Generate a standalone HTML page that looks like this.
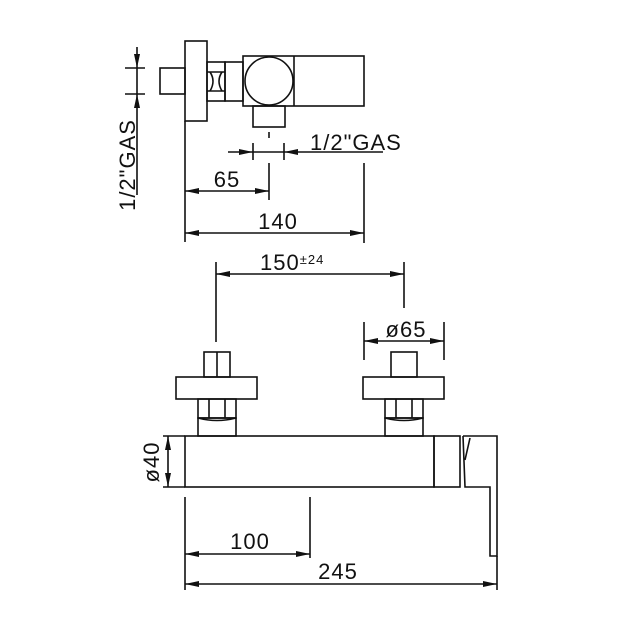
<!DOCTYPE html>
<html><head><meta charset="utf-8"><style>
html,body{margin:0;padding:0;background:#fff;}
svg{display:block;}
text{font-family:"Liberation Sans",sans-serif;fill:#111;letter-spacing:1px;}
</style></head><body>
<svg width="630" height="630" viewBox="0 0 630 630" xmlns="http://www.w3.org/2000/svg">
<defs>
<marker id="a" markerWidth="14" markerHeight="8" refX="14" refY="4" orient="auto-start-reverse" markerUnits="userSpaceOnUse">
<path d="M0,1 L14,4 L0,7 Z" fill="#111"/></marker>
</defs>
<g stroke="#111" stroke-width="1.6" fill="none">
<!-- top view -->
<rect x="185" y="41" width="22" height="80"/>
<rect x="160" y="68" width="25" height="26"/>
<rect x="207" y="62" width="18" height="39"/>
<line x1="207" y1="72" x2="225" y2="72"/><line x1="207" y1="91" x2="225" y2="91"/>
<path d="M210,72 Q216,81 210,91 M222,72 Q216,81 222,91"/>
<rect x="225" y="62" width="18" height="39"/>
<rect x="243" y="56" width="121" height="50"/>
<line x1="294" y1="56" x2="294" y2="106"/>
<circle cx="269" cy="81" r="24"/>
<rect x="253" y="106" width="32" height="21"/>
<line x1="269" y1="132" x2="269" y2="138"/>
<!-- 1/2 GAS horizontal -->
<line x1="228" y1="152" x2="253" y2="152" marker-end="url(#a)"/>
<line x1="253" y1="152" x2="284" y2="152"/>
<line x1="383" y1="152" x2="284" y2="152" marker-end="url(#a)"/>
<line x1="253" y1="143" x2="253" y2="160"/><line x1="284" y1="143" x2="284" y2="160"/>
<!-- 65 / 140 -->
<line x1="269" y1="163" x2="269" y2="200"/>
<line x1="185" y1="121" x2="185" y2="242"/>
<line x1="364" y1="163" x2="364" y2="243"/>
<line x1="185" y1="191" x2="269" y2="191" marker-start="url(#a)" marker-end="url(#a)"/>
<line x1="185" y1="233" x2="364" y2="233" marker-start="url(#a)" marker-end="url(#a)"/>
<!-- left vertical GAS -->
<line x1="137" y1="47" x2="137" y2="68" marker-end="url(#a)"/>
<line x1="137" y1="68" x2="137" y2="94"/>
<line x1="137" y1="195" x2="137" y2="94" marker-end="url(#a)"/>
<line x1="125" y1="68" x2="145" y2="68"/><line x1="125" y1="94" x2="145" y2="94"/>
<!-- front view valves -->
<rect x="204" y="352" width="26" height="25"/><line x1="217" y1="352" x2="217" y2="377"/>
<rect x="176" y="377" width="81" height="22"/>
<rect x="198" y="399" width="38" height="19"/>
<line x1="209" y1="399" x2="209" y2="418"/><line x1="225" y1="399" x2="225" y2="418"/>
<path d="M198,418 Q217,423 236,418"/>
<rect x="198" y="418" width="38" height="18"/>
<rect x="391" y="352" width="26" height="25"/>
<rect x="363" y="377" width="81" height="22"/>
<rect x="385" y="399" width="38" height="19"/>
<line x1="396" y1="399" x2="396" y2="418"/><line x1="412" y1="399" x2="412" y2="418"/>
<path d="M385,418 Q404,423 423,418"/>
<rect x="385" y="418" width="38" height="18"/>
<!-- body -->
<rect x="185" y="436" width="249" height="51"/>
<rect x="434" y="436" width="26" height="51"/>
<path d="M463,436 L497,436 L497,556 L490,556 L490,487 L465,487 L463,436"/>
<path d="M470,438 L465,460"/>
<!-- Ø40 -->
<line x1="163" y1="436" x2="185" y2="436"/><line x1="163" y1="487" x2="185" y2="487"/>
<line x1="168" y1="461" x2="168" y2="436" marker-end="url(#a)"/>
<line x1="168" y1="461" x2="168" y2="487" marker-end="url(#a)"/>
<!-- 100 / 245 -->
<line x1="185" y1="497" x2="185" y2="590"/>
<line x1="310" y1="497" x2="310" y2="558"/>
<line x1="497" y1="556" x2="497" y2="590"/>
<line x1="185" y1="554" x2="310" y2="554" marker-start="url(#a)" marker-end="url(#a)"/>
<line x1="185" y1="584" x2="497" y2="584" marker-start="url(#a)" marker-end="url(#a)"/>
<!-- 150 -->
<line x1="216" y1="262" x2="216" y2="342"/>
<line x1="404" y1="262" x2="404" y2="308"/>
<line x1="216" y1="274" x2="404" y2="274" marker-start="url(#a)" marker-end="url(#a)"/>
<!-- Ø65 -->
<line x1="364" y1="322" x2="364" y2="360"/>
<line x1="444" y1="322" x2="444" y2="360"/>
<line x1="364" y1="341" x2="444" y2="341" marker-start="url(#a)" marker-end="url(#a)"/>
</g>
<g font-size="22">
<text x="310" y="150">1/2"GAS</text>
<text x="227" y="187" text-anchor="middle">65</text>
<text x="278" y="229" text-anchor="middle">140</text>
<text transform="translate(135,165) rotate(-90)" text-anchor="middle">1/2"GAS</text>
<text x="260" y="270">150<tspan font-size="13" dy="-6">±24</tspan></text>
<text x="406" y="337" text-anchor="middle">ø65</text>
<text transform="translate(159,462) rotate(-90)" text-anchor="middle">ø40</text>
<text x="250" y="549" text-anchor="middle">100</text>
<text x="338" y="579" text-anchor="middle">245</text>
</g>
</svg>
</body></html>
